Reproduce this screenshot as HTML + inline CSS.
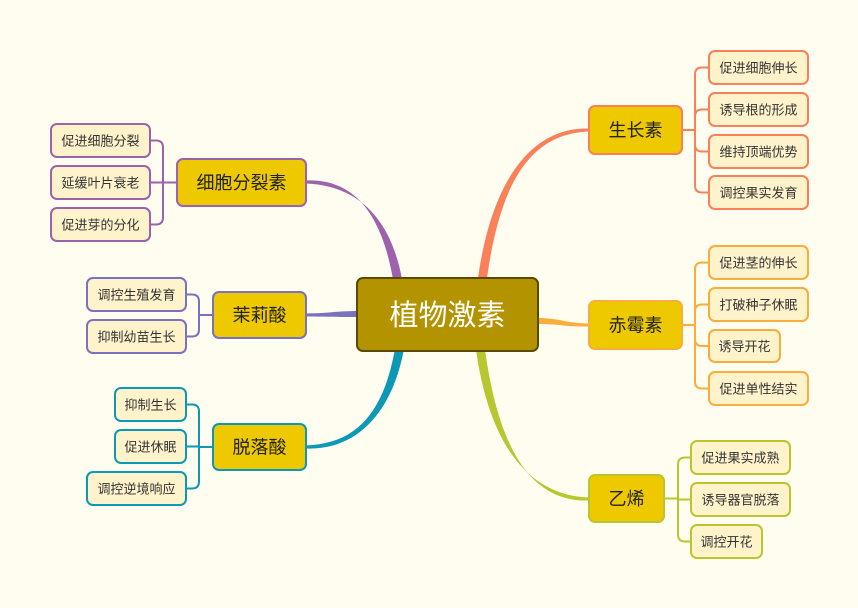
<!DOCTYPE html>
<html><head><meta charset="utf-8">
<style>
html,body{margin:0;padding:0;background:#fffcf0;}
svg{display:block;}
text{font-family:"Liberation Sans","Noto Sans CJK SC",sans-serif;}
</style></head>
<body>
<svg id="s" width="858" height="608" viewBox="0 0 858 608" xmlns="http://www.w3.org/2000/svg">
<rect width="858" height="608" fill="#fffcf0"/>
</svg>
<script>
const s=document.getElementById('s');
let h='';
function taper(sx,sy,ex,ey,w,col,horiz){
  let c1x,c1y,c2x,c2y,ox=0,oy=0;
  if(horiz){c1x=sx+(ex-sx)*0.5;c1y=sy;c2x=sx+(ex-sx)*0.5;c2y=ey;oy=w;}
  else{c1x=sx+(ex-sx)*0.12;c1y=sy+(ey-sy)*0.65;c2x=sx+(ex-sx)*0.45;c2y=ey;ox=w;}
  const w2=horiz?w*0.6:w*0.75;
  h+=`<path d="M${sx-ox},${sy-oy} C${c1x-ox},${c1y-oy} ${c2x},${c2y-w2} ${ex},${ey-1.5} L${ex},${ey+1.5} C${c2x},${c2y+w2} ${c1x+ox},${c1y+oy} ${sx+ox},${sy+oy} Z" fill="${col}"/>`;
}
taper(482,282,589,130,4.5,'#f98058',false);
taper(536,321,589,325,3,'#f9ad3a',true);
taper(480,346,589,499,4.5,'#b8c72f',false);
taper(398,282,306,182,4.5,'#9c62ab',false);
taper(360,314,306,315,3,'#7a72bd',true);
taper(400,346,306,447,4.5,'#0d99b5',false);

function branch(x1,y1,x2,y2,txt,col,leaves,side,bx){
  const my=(y1+y2)/2;
  const ex= side>0?x2:x1;
  h+=`<line x1="${ex}" y1="${my}" x2="${bx}" y2="${my}" stroke="${col}" stroke-width="2"/>`;
  leaves.forEach(l=>{
    const ly=(l[1]+l[2])/2;
    const lx= side>0?l[0]:l[3];
    const r=7;
    const dy=ly>my?1:-1;
    if(Math.abs(ly-my)<r){
      h+=`<line x1="${bx}" y1="${ly}" x2="${lx}" y2="${ly}" stroke="${col}" stroke-width="2"/>`;
    }else{
      h+=`<path d="M${bx},${my} L${bx},${ly-dy*r} Q${bx},${ly} ${bx+side*r},${ly} L${lx},${ly}" fill="none" stroke="${col}" stroke-width="2"/>`;
    }
  });
  leaves.forEach(l=>{
    h+=`<rect x="${l[0]}" y="${l[1]}" width="${l[3]-l[0]}" height="${l[2]-l[1]}" rx="6" fill="#fff3cc" stroke="${col}" stroke-width="2"/>`;
    h+=`<text x="${(l[0]+l[3])/2}" y="${(l[1]+l[2])/2+5}" font-size="13" fill="#333" text-anchor="middle">${l[4]}</text>`;
  });
  h+=`<rect x="${x1}" y="${y1}" width="${x2-x1}" height="${y2-y1}" rx="6" fill="#eec900" stroke="${col}" stroke-width="2"/>`;
  h+=`<text x="${(x1+x2)/2}" y="${my+6.5}" font-size="18" fill="#222" text-anchor="middle">${txt}</text>`;
}
branch(589,106,682,154,'生长素','#f98058',[
 [709,51,84,808,'促进细胞伸长'],[709,93,126,808,'诱导根的形成'],[709,135,168,808,'维持顶端优势'],[709,176,209,808,'调控果实发育']
],1,695);
branch(589,301,682,349,'赤霉素','#f9ad3a',[
 [709,246,279,808,'促进茎的伸长'],[709,288,321,808,'打破种子休眠'],[709,330,362,780,'诱导开花'],[709,372,405,808,'促进单性结实']
],1,695);
branch(589,475,664,522,'乙烯','#b8c72f',[
 [691,441,474,790,'促进果实成熟'],[691,483,516,790,'诱导器官脱落'],[691,525,558,762,'调控开花']
],1,678);
branch(177,159,306,206,'细胞分裂素','#9c62ab',[
 [51,124,157,150,'促进细胞分裂'],[51,166,199,150,'延缓叶片衰老'],[51,208,241,150,'促进芽的分化']
],-1,163);
branch(213,292,306,338,'茉莉酸','#7a72bd',[
 [87,278,311,186,'调控生殖发育'],[87,320,353,186,'抑制幼苗生长']
],-1,199);
branch(213,424,306,470,'脱落酸','#0d99b5',[
 [115,388,421,186,'抑制生长'],[115,430,463,186,'促进休眠'],[87,472,505,186,'调控逆境响应']
],-1,199);
h+=`<rect x="357" y="278" width="181" height="73" rx="6" fill="#b39400" stroke="#5a4a00" stroke-width="2"/>`;
h+=`<text x="447.5" y="325" font-size="29" fill="#ffffff" text-anchor="middle">植物激素</text>`;
s.insertAdjacentHTML('beforeend',h);
</script>
</body></html>
